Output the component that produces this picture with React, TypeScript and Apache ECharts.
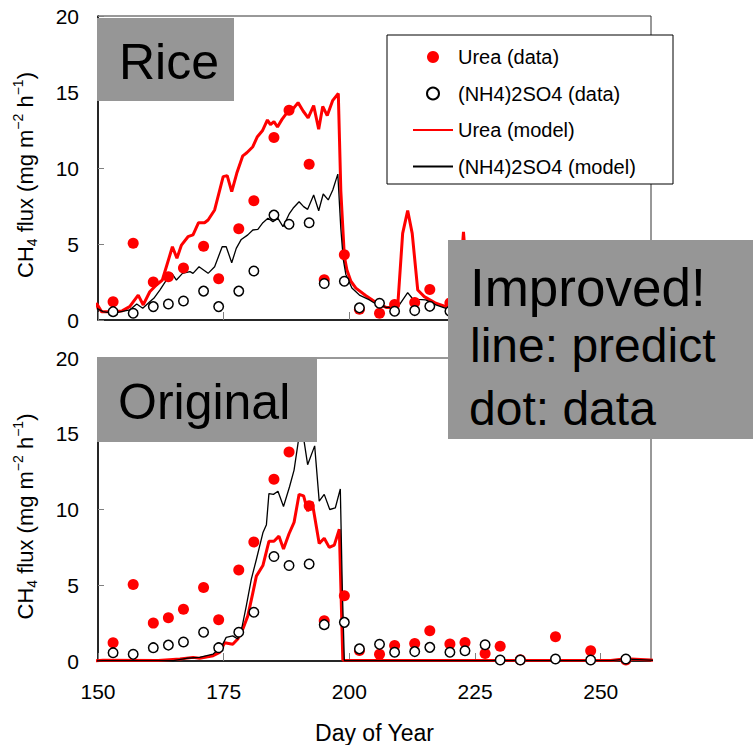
import React, { useEffect, useRef } from "react";
import * as echarts from "echarts";

// Observation days (day of year) and measured CH4 flux
const obsDays = [153, 157, 161, 164, 167, 171, 174, 178, 181, 185, 188, 192, 195, 199, 202, 206, 209, 213, 216, 220, 223, 227, 230, 234, 241, 248, 255];
const ureaObs = [1.2, 5.05, 2.5, 2.85, 3.42, 4.85, 2.72, 6.0, 7.85, 12.0, 13.8, 10.25, 2.65, 4.3, 0.7, 0.45, 1.02, 1.15, 2.0, 1.12, 1.22, 0.5, 0.97, 0.08, 1.6, 0.68, 0.07];
const nh4Obs = [0.55, 0.44, 0.88, 1.05, 1.25, 1.9, 0.88, 1.9, 3.22, 6.9, 6.3, 6.4, 2.4, 2.55, 0.8, 1.1, 0.58, 0.62, 0.9, 0.58, 0.68, 1.07, 0.07, 0.07, 0.13, 0.07, 0.13];

// Model output [day, flux] — improved (Rice panel)
const ureaModelImproved = [
  [148.7, 0], [149.7, 1.1], [150.7, 0.55], [153, 0.55], [154.8, 0.6], [156.3, 0.88], [158, 1.64], [159, 0.99],
  [160.3, 1.86], [161.6, 2.3], [162.8, 2.63], [163.6, 3.5], [164.8, 4.82], [165.7, 4.06], [166.6, 4.93],
  [167.9, 5.48], [168.9, 5.6], [170, 6.4], [171.2, 6.4], [171.9, 6.58], [173.2, 7.24], [174.9, 9.43],
  [175.7, 9.5], [176.6, 8.44], [177.6, 9.65], [178.8, 10.8], [179.6, 11.0], [180.8, 11.4], [181.7, 12.06],
  [182.7, 12.45], [183.7, 13.16], [184.3, 12.85], [185, 13.05], [185.7, 12.7], [186.6, 13.2], [187.6, 13.65],
  [188.7, 13.85], [189.8, 14.3], [190.8, 13.75], [191.8, 13.3], [192.9, 14.1], [193.9, 12.55], [194.7, 14.05],
  [195.6, 13.45], [196.7, 14.45], [197.8, 14.9], [198.3, 8.5], [199, 4.2], [199.5, 3.3], [200.3, 2.55],
  [201.3, 2.1], [203.3, 1.6], [205.3, 1.15], [207.3, 0.83], [209.6, 0.83], [210.6, 5.7], [211.6, 7.2],
  [212.5, 5.7], [213.6, 1.97], [214.9, 1.54], [217.2, 1.1], [219.2, 0.88], [221.6, 0.8], [222.7, 5.8],
  [223.7, 1.3], [226, 0.9], [230, 0.7], [235, 0.5], [240, 0.4], [245, 0.35], [250, 0.3], [255, 0.25],
  [260, 0.2], [261.6, 0],
];
const nh4ModelImproved = [
  [148.7, 0], [149.7, 0.77], [151, 0.55], [153, 0.44], [156.3, 0.66], [157.7, 1.05], [158.9, 0.77],
  [160.3, 1.2], [161.1, 1.43], [162.3, 1.97], [163.6, 2.63], [164.7, 3.07], [165.6, 2.63], [166.8, 3.07],
  [168.3, 3.18], [168.9, 3.07], [170.1, 3.5], [171, 3.29], [171.9, 3.07], [173.2, 3.5], [174.7, 4.82],
  [175.5, 4.82], [176.6, 3.77], [177.5, 4.71], [178.5, 5.3], [179.8, 5.6], [180.8, 5.92], [181.8, 5.96],
  [182.8, 6.4], [183.8, 6.69], [184.8, 6.47], [185.8, 6.69], [186.8, 6.14], [188.1, 7.02], [188.8, 7.35],
  [190, 7.78], [190.9, 7.46], [191.7, 7.28], [192.9, 8.22], [193.9, 7.19], [194.8, 8.29], [195.8, 7.9],
  [196.7, 8.55], [197.7, 9.6], [198.3, 6.0], [198.8, 3.95], [199.3, 3.0], [200.5, 2.1], [202, 1.64],
  [204, 1.32], [205.6, 0.99], [207.3, 0.83], [209.6, 0.83], [211.6, 1.8], [212.5, 1.43], [213.6, 1.36],
  [215.2, 1.32], [217.2, 0.99], [219.2, 0.77], [222, 0.6], [226, 0.5], [230, 0.4], [235, 0.3], [240, 0.25],
  [250, 0.2], [260, 0.15], [261.6, 0],
];

// Model output [day, flux] — original (Original panel)
const ureaModelOriginal = [
  [148.7, 0], [151, 0.05], [162, 0.03], [166.3, 0.13], [168.9, 0.24], [170.2, 0.18], [172.9, 0.35],
  [174.2, 0.57], [175.2, 1.2], [176.8, 1.1], [177.8, 1.45], [178.8, 2.1], [179.8, 2.98], [180.8, 4.5],
  [181.5, 5.6], [182.8, 6.3], [184, 7.9], [185, 7.9], [186, 8.24], [186.9, 7.4], [188, 8.4], [189, 9.15],
  [190, 11.0], [190.9, 10.9], [191.7, 9.9], [192.6, 10.5], [194, 7.75], [195, 8.1], [196, 7.5], [197, 7.65],
  [198, 8.7], [198.7, 0.05], [252, 0.03], [255, 0.15], [259.9, 0.07], [261.6, 0],
];
const nh4ModelOriginal = [
  [148.7, 0], [151, 0.02], [165, 0.03], [167.6, 0.18], [170.2, 0.24], [172.9, 0.46], [174.5, 0.9],
  [175.5, 1.56], [176.8, 1.66], [177.8, 1.45], [178.7, 2.32], [179.5, 3.64], [180.5, 5.4], [181.5, 6.7],
  [182.8, 8.46], [183.5, 9.0], [184, 11.05], [184.9, 11.0], [185.8, 11.2], [186.9, 10.2], [188.1, 11.5],
  [189, 12.6], [189.8, 14.4], [190.4, 15.8], [191.7, 12.96], [193.1, 14.2], [194, 10.55], [195, 11.0],
  [196.1, 10.0], [197.2, 10.1], [198.2, 11.36], [198.6, 4.7], [199, 0.03], [252, 0.03], [255, 0.13],
  [259.9, 0.06], [261.6, 0],
];

const seriesNames = ["Urea (data)", "(NH4)2SO4 (data)", "Urea (model)", "(NH4)2SO4 (model)"];
const yTicks = { min: 0, max: 20, interval: 5 };
const xTicks = { min: 150, max: 260, interval: 25 };

const FONT = "'Liberation Sans', Arial, sans-serif";

export default function App() {
  const ref = useRef<HTMLDivElement>(null);

  useEffect(() => {
    if (!ref.current) return;
    const chart = echarts.init(ref.current, undefined, { renderer: "svg" });

    const obsPairs = (vals: number[]) => obsDays.map((d, i) => [d, vals[i]]);

    const yName = "{n|CH}{sub|4}{n| flux (mg m}{sup|−2}{n| h}{sup|−1}{n|)}";

    const makeX = (idx: number) => ({
      gridIndex: idx,
      type: "value",
      min: xTicks.min,
      max: xTicks.max,
      interval: xTicks.interval,
      axisLine: { show: true, onZero: false, lineStyle: { color: "#000", width: 1.5 } },
      axisTick: { show: true, inside: true, length: 8, lineStyle: { color: "#808080", width: 1 } },
      splitLine: { show: false },
      axisLabel: {
        show: idx === 1,
        fontSize: 21,
        color: "#000",
        fontFamily: FONT,
        margin: 20,
        showMaxLabel: false,
      },
      name: idx === 1 ? "Day of Year" : "",
      nameLocation: "middle",
      nameGap: 60,
      nameTextStyle: { fontSize: 23, color: "#000", fontFamily: FONT },
    });

    const makeY = (idx: number) => ({
      gridIndex: idx,
      type: "value",
      min: yTicks.min,
      max: yTicks.max,
      interval: yTicks.interval,
      axisLine: { show: true, lineStyle: { color: "#000", width: 1.5 } },
      axisTick: { show: true, inside: true, length: 6, lineStyle: { color: "#808080", width: 1 } },
      splitLine: { show: false },
      axisLabel: { fontSize: 21, color: "#000", fontFamily: FONT, margin: 19 },
      name: yName,
      nameLocation: "middle",
      nameRotate: 90,
      nameGap: 59,
      nameTextStyle: {
        color: "#000",
        fontFamily: FONT,
        padding: [0, 14, 0, 0],
        rich: {
          n: { fontSize: 22, lineHeight: 28, fontFamily: FONT, color: "#000" },
          sub: { fontSize: 14, lineHeight: 14, verticalAlign: "bottom", fontFamily: FONT, color: "#000" },
          sup: { fontSize: 14, lineHeight: 14, verticalAlign: "top", fontFamily: FONT, color: "#000" },
        },
      },
    });

    const makeSeries = (idx: number, urea: number[][], nh4: number[][]) => [
      {
        name: seriesNames[2],
        type: "line",
        xAxisIndex: idx,
        yAxisIndex: idx,
        data: urea,
        symbol: "none",
        clip: false,
        lineStyle: { color: "#ff0000", width: 3 },
        itemStyle: { color: "#ff0000" },
        z: 2,
      },
      {
        name: seriesNames[3],
        type: "line",
        xAxisIndex: idx,
        yAxisIndex: idx,
        data: nh4,
        symbol: "none",
        clip: false,
        lineStyle: { color: "#000", width: 1.3 },
        itemStyle: { color: "#000" },
        z: 3,
      },
      {
        name: seriesNames[0],
        type: "scatter",
        xAxisIndex: idx,
        yAxisIndex: idx,
        data: obsPairs(ureaObs),
        symbol: "circle",
        symbolSize: 11,
        clip: false,
        itemStyle: { color: "#ff0000", opacity: 1 },
        z: 4,
      },
      {
        name: seriesNames[1],
        type: "scatter",
        xAxisIndex: idx,
        yAxisIndex: idx,
        data: obsPairs(nh4Obs),
        symbol: "circle",
        symbolSize: 9.5,
        clip: false,
        itemStyle: { color: "#ffffff", borderColor: "#000", borderWidth: 1.5, opacity: 1 },
        z: 5,
      },
    ];

    const option: any = {
      animation: false,
      backgroundColor: "#ffffff",
      textStyle: { fontFamily: FONT },
      grid: [
        { left: 98, top: 16, width: 553, height: 304, show: true, borderColor: "#333", borderWidth: 1, backgroundColor: "transparent" },
        { left: 98, top: 358, width: 553, height: 304, show: true, borderColor: "#333", borderWidth: 1, backgroundColor: "transparent" },
      ],
      xAxis: [makeX(0), makeX(1)],
      yAxis: [makeY(0), makeY(1)],
      legend: {
        data: [
          { name: seriesNames[0] },
          { name: seriesNames[1] },
          { name: seriesNames[2], itemStyle: { opacity: 0, borderWidth: 0 } },
          { name: seriesNames[3], itemStyle: { opacity: 0, borderWidth: 0 } },
        ],
        orient: "vertical",
        left: 412,
        top: 47,
        itemWidth: 40,
        itemHeight: 12,
        itemGap: 16.5,
        selectedMode: false,
        padding: 0,
        z: 60,
        textStyle: { fontSize: 20, lineHeight: 20, color: "#000", fontFamily: FONT },
      },
      graphic: [
        {
          type: "rect",
          z: 50,
          shape: { x: 387, y: 35, width: 286, height: 149 },
          style: { fill: "#ffffff", stroke: "#000", lineWidth: 1 },
        },
        {
          type: "rect",
          z: 100,
          shape: { x: 97, y: 18, width: 137, height: 83 },
          style: { fill: "#969696" },
        },
        {
          type: "text",
          z: 101,
          x: 119,
          y: 62,
          style: { text: "Rice", fontSize: 50, fontFamily: FONT, fill: "#000", verticalAlign: "middle" },
        },
        {
          type: "rect",
          z: 100,
          shape: { x: 97, y: 357, width: 220, height: 85 },
          style: { fill: "#969696" },
        },
        {
          type: "text",
          z: 101,
          x: 118,
          y: 402,
          style: { text: "Original", fontSize: 50, fontFamily: FONT, fill: "#000", verticalAlign: "middle" },
        },
        {
          type: "rect",
          z: 100,
          shape: { x: 448, y: 240, width: 310, height: 199 },
          style: { fill: "#969696" },
        },
        {
          type: "text",
          z: 101,
          x: 470,
          y: 287,
          style: { text: "Improved!", fontSize: 53, fontFamily: FONT, fill: "#000", verticalAlign: "middle" },
        },
        {
          type: "text",
          z: 101,
          x: 470,
          y: 345,
          style: { text: "line: predict", fontSize: 48, fontFamily: FONT, fill: "#000", verticalAlign: "middle" },
        },
        {
          type: "text",
          z: 101,
          x: 469,
          y: 408,
          style: { text: "dot: data", fontSize: 48, fontFamily: FONT, fill: "#000", verticalAlign: "middle" },
        },
      ],
      series: [
        ...makeSeries(0, ureaModelImproved, nh4ModelImproved),
        ...makeSeries(1, ureaModelOriginal, nh4ModelOriginal),
      ],
    };

    chart.setOption(option);
    return () => chart.dispose();
  }, []);

  return (
    <div
      ref={ref}
      style={{ position: "fixed", left: 0, top: 0, width: 753, height: 745, background: "#fff" }}
    />
  );
}
